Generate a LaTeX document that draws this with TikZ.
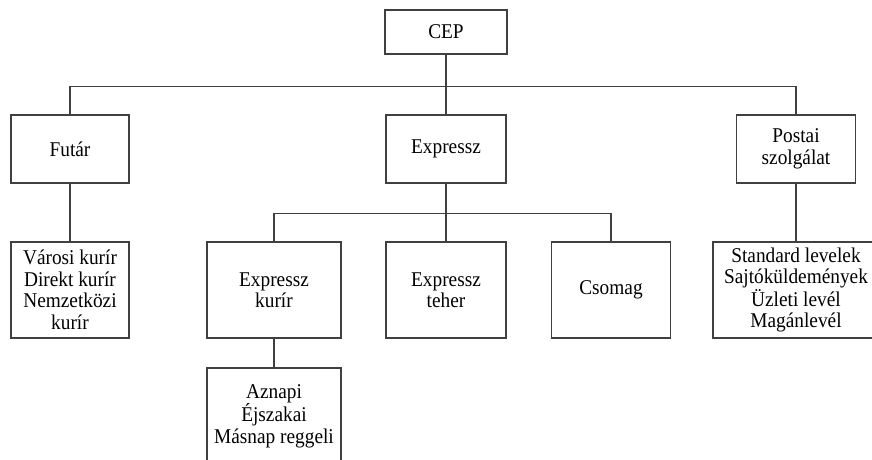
\documentclass[tikz,border=0pt]{standalone}
\usepackage{fontspec}
\setmainfont[FakeStretch=0.92]{Liberation Serif}
\begin{document}
\begin{tikzpicture}[x=1pt,y=1pt]
\tikzstyle{every node}+=[inner sep=0pt]
\tikzstyle{box}=[draw=black!75, line width=1.1pt, fill=white, align=center, font=\fontsize{21}{21.5}\selectfont]
\tikzstyle{link}=[draw=black!75, line width=1.1pt]
\useasboundingbox (0,0) rectangle (872,-459);
\clip (0,0) rectangle (872,-459);
\node [box, minimum width=122, minimum height=44] (cep) at (446,-32) {CEP};
\node [box, minimum width=118, minimum height=68] (futar) at (70,-149) {Fut\'ar};
\node [box, minimum width=120, minimum height=68] (expressz) at (446,-149) {Expressz};
\node [box, minimum width=119, minimum height=68] (postai) at (796,-149) {Postai\\szolg\'alat};
\node [box, minimum width=118, minimum height=96] (varosi) at (70,-290) {V\'arosi kur\'ir\\Direkt kur\'ir\\Nemzetk\"ozi\\kur\'ir};
\node [box, minimum width=134, minimum height=96] (ekurir) at (274,-290) {Expressz\\kur\'ir};
\node [box, minimum width=120, minimum height=96] (eteher) at (446,-290) {Expressz\\teher};
\node [box, minimum width=119, minimum height=96] (csomag) at (611,-290) {Csomag};
\node [box, minimum width=166, minimum height=96] (standard) at (796,-290) {Standard levelek\\Sajt\'ok\"uldem\'enyek\\\"Uzleti lev\'el\\Mag\'anlev\'el};
\node [box, minimum width=134, minimum height=96] (aznapi) at (274,-416) {Aznapi\\\'Ejszakai\\M\'asnap reggeli};
% top level
\draw [link] (cep.south) -- ++(0,-31.5) coordinate (bus1);
\draw [link] (futar.north) |- (bus1) -| (postai.north);
\draw [link] (bus1) -- (expressz.north);
\draw [link] (futar.south) -- (varosi.north);
\draw [link] (postai.south) -- (standard.north);
% expressz branch
\draw [link] (expressz.south) -- ++(0,-30) coordinate (bus2);
\draw [link] (ekurir.north) |- (bus2) -| (csomag.north);
\draw [link] (bus2) -- (eteher.north);
\draw [link] (ekurir.south) -- (aznapi.north);
\end{tikzpicture}
\end{document}
